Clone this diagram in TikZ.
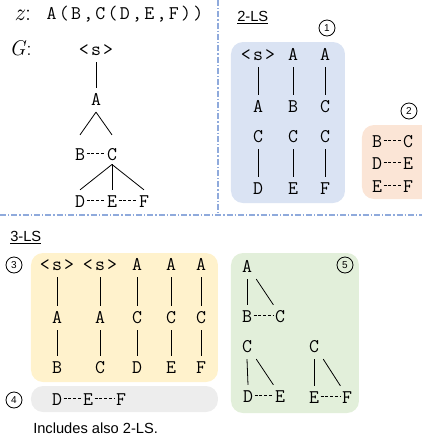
\documentclass[tikz,border=0pt]{standalone}
\usepackage{fontspec}
\setsansfont{Liberation Sans}
\usepackage{amsmath}
\usetikzlibrary{positioning,calc}

\definecolor{lsblue}{HTML}{DAE3F3}
\definecolor{lsorange}{HTML}{FBE5D6}
\definecolor{lsyellow}{HTML}{FFF2CC}
\definecolor{lsgrey}{HTML}{EDEDED}
\definecolor{lsgreen}{HTML}{E2EFDA}
\definecolor{sepblue}{HTML}{8FAADC}

% wider letter spacing for the typewriter strings
\newcommand\spacedtt[1]{\ifx#1\relax\unkern\else#1\kern1.7pt\expandafter\spacedtt\fi}

\begin{document}
\begin{tikzpicture}[x=0.75pt,y=-0.75pt,
    tok/.style={font=\ttfamily\fontsize{14.5}{14.5}\selectfont, inner xsep=1pt, inner ysep=4.5pt, text height=8.8pt, text depth=0pt},
    txt/.style={font=\sffamily\fontsize{11}{12}\selectfont, inner sep=0pt},
    var/.style={anchor=west, inner sep=0pt, font=\fontsize{18}{18}\selectfont\itshape},
    num/.style={draw, circle, line width=0.6pt, minimum size=12pt, inner sep=0pt, font=\sffamily\fontsize{7.5}{7.5}\selectfont},
    edge/.style={line width=0.6pt},
    gap/.style={line width=0.6pt, dash pattern=on 2.2pt off 1.4pt},
    sep/.style={sepblue, line width=1.1pt, dash pattern=on 4.5pt off 1.5pt on 1pt off 1.5pt},
    box/.style={rounded corners=9pt}]

    \useasboundingbox (0,0) rectangle (422,437);

    % separators
    \coordinate (V1) at (218,0);
    \coordinate (V2) at (218,215);
    \coordinate (H1) at (0,215);
    \coordinate (H2) at (422,215);
    \draw[sep] (V1) -- (V2);
    \draw[sep] (H1) -- (H2);

    % boxes
    \fill[lsblue, box] (231,42) rectangle (345,203);
    \fill[lsorange, box] (362,125) rectangle (434,199);
    \fill[lsyellow, box] (31,253) rectangle (218,382);
    \fill[lsgrey, box] (31,386) rectangle (218,412);
    \fill[lsgreen, box] (231,253) rectangle (359,413);

    % z and G
    \node[var] (zlab) at (14,15) {z\/\upshape:};
    \node[tok, anchor=west] (expr) at (45,14) {\spacedtt A(B,C(D,E,F))\relax};
    \node[var, font=\fontsize{16}{16}\selectfont\itshape] (glab) at (9,48) {G\/\upshape:};

    \node[tok] (gs) at (96,50) {\spacedtt<s>\relax};
    \node[tok] (gA) at (96,100) {A};
    \node[tok] (gB) at (80,155) {B};
    \node[tok] (gC) at (112,155) {C};
    \node[tok] (gD) at (80,202) {D};
    \node[tok] (gE) at (112,202) {E};
    \node[tok] (gF) at (144,202) {F};

    \draw[edge] (gs) -- (gA);
    \draw[edge] (gA.south) -- ([yshift=6pt]gB.north);
    \draw[edge] (gA.south) -- ([yshift=6pt]gC.north);
    \draw[edge] ([yshift=2pt]gC.south) -- (gD.north);
    \draw[edge] ([yshift=2pt]gC.south) -- (gE.north);
    \draw[edge] ([yshift=2pt]gC.south) -- (gF.north);
    \draw[gap] ([yshift=1.5pt]gB.east) -- ([yshift=1.5pt]gC.west);
    \draw[gap] ([yshift=1.5pt]gD.east) -- ([yshift=1.5pt]gE.west);
    \draw[gap] ([yshift=1.5pt]gE.east) -- ([yshift=1.5pt]gF.west);

    % 2-LS
    \node[txt, anchor=west] (ls2) at (237,18) {\underline{2-LS}};
    \node[num] (n1) at (327,28) {1};
    \node[num] (n2) at (409,111) {2};

    \node[tok] (ba1) at (258,55) {\spacedtt<s>\relax};
    \node[tok] (bb1) at (258,107) {A};
    \node[tok] (bc1) at (258,137) {C};
    \node[tok] (bd1) at (258,189) {D};
    \node[tok] (ba2) at (293,55) {A};
    \node[tok] (bb2) at (293,107) {B};
    \node[tok] (bc2) at (293,137) {C};
    \node[tok] (bd2) at (293,189) {E};
    \node[tok] (ba3) at (325,55) {A};
    \node[tok] (bb3) at (325,107) {C};
    \node[tok] (bc3) at (325,137) {C};
    \node[tok] (bd3) at (325,189) {F};
    \draw[edge] (ba1) -- (bb1);
    \draw[edge] (bc1) -- (bd1);
    \draw[edge] (ba2) -- (bb2);
    \draw[edge] (bc2) -- (bd2);
    \draw[edge] (ba3) -- (bb3);
    \draw[edge] (bc3) -- (bd3);

    \node[tok] (oa1) at (377,142) {B};
    \node[tok] (ob1) at (408,142) {C};
    \node[tok] (oa2) at (377,164) {D};
    \node[tok] (ob2) at (408,164) {E};
    \node[tok] (oa3) at (377,187) {E};
    \node[tok] (ob3) at (408,187) {F};
    \draw[gap] ([yshift=1.5pt]oa1.east) -- ([yshift=1.5pt]ob1.west);
    \draw[gap] ([yshift=1.5pt]oa2.east) -- ([yshift=1.5pt]ob2.west);
    \draw[gap] ([yshift=1.5pt]oa3.east) -- ([yshift=1.5pt]ob3.west);

    % 3-LS
    \node[txt, anchor=west] (ls3) at (10,238) {\underline{3-LS}};
    \node[num] (n3) at (14,265) {3};
    \node[num] (n4) at (14,400) {4};
    \node[num] (n5) at (345,265) {5};

    \node[tok] (ya1) at (57,265) {\spacedtt<s>\relax};
    \node[tok] (yb1) at (57,318) {A};
    \node[tok] (yc1) at (57,368) {B};
    \node[tok] (ya2) at (100,265) {\spacedtt<s>\relax};
    \node[tok] (yb2) at (100,318) {A};
    \node[tok] (yc2) at (100,368) {C};
    \node[tok] (ya3) at (137,265) {A};
    \node[tok] (yb3) at (137,318) {C};
    \node[tok] (yc3) at (137,368) {D};
    \node[tok] (ya4) at (171,265) {A};
    \node[tok] (yb4) at (171,318) {C};
    \node[tok] (yc4) at (171,368) {E};
    \node[tok] (ya5) at (201,265) {A};
    \node[tok] (yb5) at (201,318) {C};
    \node[tok] (yc5) at (201,368) {F};
    \draw[edge] (ya1) -- (yb1) -- (yc1);
    \draw[edge] (ya2) -- (yb2) -- (yc2);
    \draw[edge] (ya3) -- (yb3) -- (yc3);
    \draw[edge] (ya4) -- (yb4) -- (yc4);
    \draw[edge] (ya5) -- (yb5) -- (yc5);

    \node[tok] (sD) at (57,400) {D};
    \node[tok] (sE) at (88,400) {E};
    \node[tok] (sF) at (121,400) {F};
    \draw[gap] ([yshift=1.5pt]sD.east) -- ([yshift=1.5pt]sE.west);
    \draw[gap] ([yshift=1.5pt]sE.east) -- ([yshift=1.5pt]sF.west);
    \node[txt, anchor=west] (note) at (33,428) {Includes also 2-LS.};

    % green box
    \node[tok] (kA) at (247,267) {A};
    \node[tok] (kB) at (247,317) {B};
    \node[tok] (kC) at (280,317) {C};
    \node[tok] (kC2) at (247,347) {C};
    \node[tok] (kD) at (248,397) {D};
    \node[tok] (kE) at (280,397) {E};
    \node[tok] (kC3) at (314,347) {C};
    \node[tok] (kE3) at (314,398) {E};
    \node[tok] (kF3) at (347,398) {F};
    \draw[edge] (kA.south) -- (kB.north);
    \draw[edge] ([xshift=2pt]kA.south east) -- (kC.north west);
    \draw[gap] ([yshift=1.5pt]kB.east) -- ([yshift=1.5pt]kC.west);
    \draw[edge] (kC2.south) -- (kD.north);
    \draw[edge] ([xshift=2pt]kC2.south east) -- (kE.north west);
    \draw[gap] ([yshift=1.5pt]kD.east) -- ([yshift=1.5pt]kE.west);
    \draw[edge] (kC3.south) -- (kE3.north);
    \draw[edge] ([xshift=2pt]kC3.south east) -- (kF3.north west);
    \draw[gap] ([yshift=1.5pt]kE3.east) -- ([yshift=1.5pt]kF3.west);

\end{tikzpicture}
\end{document}
